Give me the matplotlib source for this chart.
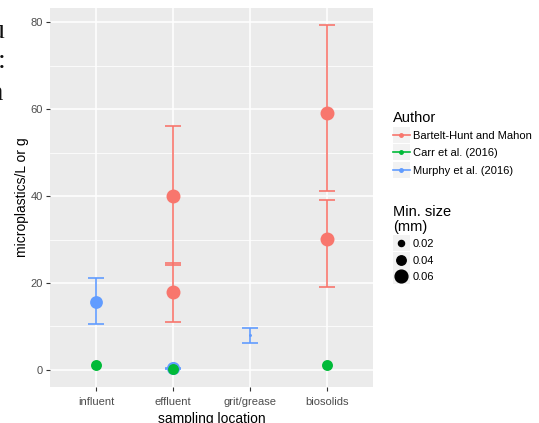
import matplotlib
matplotlib.use('Agg')
import matplotlib.pyplot as plt
from matplotlib.lines import Line2D
from matplotlib.patches import Rectangle
from matplotlib.legend_handler import HandlerLine2D

plt.rcParams['font.family'] = ['Liberation Sans', 'DejaVu Sans']

# data
locations = ['influent', 'effluent', 'grit/grease', 'biosolids']
authors = ['Bartelt-Hunt and Mahon', 'Carr et al. (2016)', 'Murphy et al. (2016)']
colors = {'Bartelt-Hunt and Mahon': '#F8766D',
          'Carr et al. (2016)': '#00BA38',
          'Murphy et al. (2016)': '#619CFF'}

# Murphy et al. (mean with range)
mu_loc = ['influent', 'effluent', 'grit/grease']
mu_mean = [15.7, 0.4, 7.9]
mu_lo = [10.5, 0.3, 6.2]
mu_hi = [21.1, 0.5, 9.7]
mu_size = [0.06, 0.062, 0.001]

# Bartelt-Hunt and Mahon, two values per location
bh_loc = ['effluent', 'effluent', 'biosolids', 'biosolids']
bh_mean = [40.0, 18.0, 59.1, 30.1]
bh_lo = [24.1, 11.1, 41.2, 19.1]
bh_hi = [56.2, 24.6, 79.3, 39.0]
bh_size = [0.067, 0.067, 0.067, 0.067]

# Carr et al. (single values)
ca_loc = ['influent', 'effluent', 'biosolids']
ca_mean = [1.1, 0.1, 1.1]
ca_size = [0.049, 0.049, 0.049]

size_breaks = [0.02, 0.04, 0.06]


def msize(s):
    return 2.0 + 120 * s


xpos = {loc: i + 1 for i, loc in enumerate(locations)}

fig = plt.figure(figsize=(5.39, 4.23), dpi=100)
ax = fig.add_axes([0.0928, 0.085, 0.6, 0.896])
ax.set_facecolor('#EBEBEB')

# error bars
for a, locs, means, los, his in [('Bartelt-Hunt and Mahon', bh_loc, bh_mean, bh_lo, bh_hi),
                                 ('Murphy et al. (2016)', mu_loc, mu_mean, mu_lo, mu_hi)]:
    for loc, m, lo, hi in zip(locs, means, los, his):
        ax.errorbar(xpos[loc], m, yerr=[[m - lo], [hi - m]], fmt='none',
                    ecolor=colors[a], elinewidth=1.2, capsize=6, capthick=1.2, zorder=3)

# points
for a, locs, means, sizes in [('Bartelt-Hunt and Mahon', bh_loc, bh_mean, bh_size),
                              ('Murphy et al. (2016)', mu_loc, mu_mean, mu_size),
                              ('Carr et al. (2016)', ca_loc, ca_mean, ca_size)]:
    for loc, m, s in zip(locs, means, sizes):
        ax.plot(xpos[loc], m, 'o', color=colors[a], markersize=msize(s), mew=0, zorder=4)

ax.set_xlim(0.4, 4.6)
ax.set_ylim(-3.97, 83.3)
ax.set_xticks(range(1, 5))
ax.set_xticklabels(locations)
ax.set_yticks([0, 20, 40, 60, 80])
ax.set_yticks([10, 30, 50, 70], minor=True)
ax.grid(True, which='major', color='white', linewidth=1.1)
ax.grid(True, which='minor', axis='y', color='white', linewidth=0.55)
ax.set_axisbelow(True)
for sp in ax.spines.values():
    sp.set_visible(False)
ax.tick_params(which='major', colors='#333333', labelcolor='#4D4D4D', labelsize=8,
               length=3, width=0.8, pad=2)
ax.tick_params(axis='x', which='major', pad=4.5)
ax.tick_params(which='minor', length=0)
ax.set_xlabel('sampling location', fontsize=10, labelpad=3)
ax.set_ylabel('microplastics/L or g', fontsize=10, labelpad=1)


class KeyHandler(HandlerLine2D):
    def create_artists(self, legend, orig_handle, xdescent, ydescent,
                       width, height, fontsize, trans):
        bg = Rectangle((-xdescent, -ydescent - 3), width, height + 6,
                       facecolor='#F2F2F2', edgecolor='none', transform=trans)
        arts = super().create_artists(legend, orig_handle, xdescent, ydescent,
                                      width, height, fontsize, trans)
        return [bg] + list(arts)


leg_kw = dict(loc='upper left', frameon=False, fontsize=8, handlelength=1.53,
              handletextpad=0.27, borderpad=0, borderaxespad=0,
              handler_map={Line2D: KeyHandler(numpoints=1)})

fig.text(0.7286, 0.721, 'Author', fontsize=10.5, va='center', ha='left')
author_handles = [Line2D([], [], color=colors[a], lw=1.2, marker='o', markersize=2.5)
                  for a in authors]
fig.legend(author_handles, authors, bbox_to_anchor=(0.729, 0.691),
           labelspacing=0.68, **leg_kw)

fig.text(0.7286, 0.482, 'Min. size\n(mm)', fontsize=10.5, va='center', ha='left',
         linespacing=1.1)
size_handles = [Line2D([], [], color='black', lw=0, marker='o', markersize=msize(s))
                for s in size_breaks]
fig.legend(size_handles, ['%.2f' % s for s in size_breaks], bbox_to_anchor=(0.729, 0.435),
           labelspacing=0.6, **leg_kw)

# cropped text from the surrounding document
for t, x, y in [('u', -0.017, 0.910), (':', -0.005, 0.839), ('a', -0.017, 0.764)]:
    fig.text(x, y, t, fontsize=20, family='Liberation Serif', color='#111111',
             va='baseline')

fig.savefig('out.png', dpi=100)
